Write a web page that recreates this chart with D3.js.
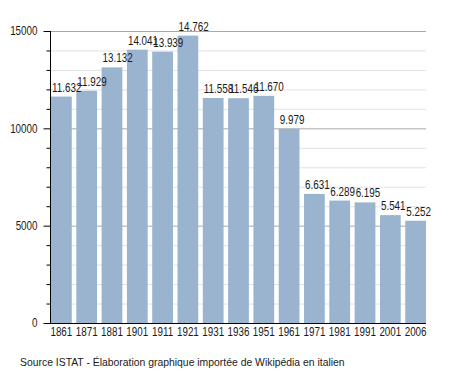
<!DOCTYPE html>
<html>
<head>
<meta charset="utf-8">
<script src="https://cdn.jsdelivr.net/npm/d3@7"></script>
<style>
  body { margin: 0; background: #fff; }
  text { font-family: "Liberation Sans", Arial, sans-serif; fill: #1a1a1a; }
</style>
</head>
<body>
<svg id="chart" width="455" height="373"></svg>
<script>
// population by census year
var years = ["1861", "1871", "1881", "1901", "1911", "1921", "1931", "1936", "1951", "1961", "1971", "1981", "1991", "2001", "2006"];
var population = [11632, 11929, 13132, 14041, 13939, 14762, 11558, 11546, 11670, 9979, 6631, 6289, 6195, 5541, 5252];
var majorTicks = [0, 5000, 10000, 15000];
var sourceNote = "Source ISTAT - Élaboration graphique importée de Wikipédia en italien";

var svg = d3.select("#chart");
var plotLeft = 50, plotRight = 426, plotTop = 31, plotBottom = 323;
var narrow = 0.82; // no narrow font installed, squeeze the labels instead

var x = d3.scaleBand()
    .domain(years)
    .range([plotLeft + 1, plotRight])
    .paddingInner(0.18)
    .paddingOuter(0);

var y = d3.scaleLinear()
    .domain([0, 15000])
    .range([plotBottom, plotTop]);

var minorTicks = d3.range(0, 15001, 1000).filter(function(d) { return d % 5000 != 0; });

// minor grid
svg.append("g").selectAll("line")
    .data(minorTicks)
    .enter().append("line")
    .attr("x1", plotLeft).attr("x2", plotRight)
    .attr("y1", function(d) { return y(d) + 0.5; })
    .attr("y2", function(d) { return y(d) + 0.5; })
    .attr("stroke", "#e2e2e2");

// major grid
svg.append("g").selectAll("line")
    .data(majorTicks.filter(function(d) { return d > 0; }))
    .enter().append("line")
    .attr("x1", plotLeft).attr("x2", plotRight)
    .attr("y1", function(d) { return y(d) + 0.5; })
    .attr("y2", function(d) { return y(d) + 0.5; })
    .attr("stroke", "#a8a8a8");

// bars
svg.append("g").selectAll("rect")
    .data(population)
    .enter().append("rect")
    .attr("x", function(d, i) { return x(years[i]); })
    .attr("y", function(d) { return y(d); })
    .attr("width", x.bandwidth())
    .attr("height", function(d) { return plotBottom - y(d); })
    .attr("fill", "#9ab3cf");

// value labels, italian style thousands separator
var fmt = function(d) { return d3.format(",")(d).replace(/,/g, "."); };
svg.append("g").selectAll("text")
    .data(population)
    .enter().append("text")
    .attr("transform", function(d, i) {
        return "translate(" + (x(years[i]) + 1) + "," + (y(d) - 5) + ") scale(" + narrow + ",1)";
    })
    .attr("font-size", 12)
    .text(fmt);

// y axis
var yAxis = svg.append("g")
    .attr("transform", "translate(" + (plotLeft + 0.5) + ",0)")
    .call(d3.axisLeft(y).tickValues(majorTicks).tickSize(7).tickPadding(6).tickFormat(d3.format("d")));
yAxis.select(".domain").attr("d", "M0," + plotTop + "V" + plotBottom).attr("stroke", "#000");
yAxis.selectAll("line").attr("stroke", "#000");
yAxis.selectAll("text")
    .attr("font-size", 12).attr("font-family", null).attr("fill", null)
    .attr("x", -13 / narrow)
    .attr("transform", "scale(" + narrow + ",1)");

svg.append("g")
    .attr("transform", "translate(" + (plotLeft + 0.5) + ",0)")
    .call(d3.axisLeft(y).tickValues(minorTicks).tickSize(4).tickFormat(""))
    .call(function(g) { g.select(".domain").remove(); })
    .selectAll("line").attr("stroke", "#000");

// x axis
var xAxis = svg.append("g")
    .attr("transform", "translate(0," + (plotBottom + 0.5) + ")")
    .call(d3.axisBottom(x).tickSize(0).tickPadding(4));
xAxis.select(".domain").attr("d", "M" + plotLeft + ",0H" + plotRight).attr("stroke", "#000");
xAxis.selectAll("text")
    .attr("font-size", 12).attr("font-family", null).attr("fill", null)
    .attr("transform", "scale(" + narrow + ",1)");

svg.append("text")
    .attr("x", 20)
    .attr("y", 366)
    .attr("font-size", 10.4)
    .text(sourceNote);
</script>
</body>
</html>
